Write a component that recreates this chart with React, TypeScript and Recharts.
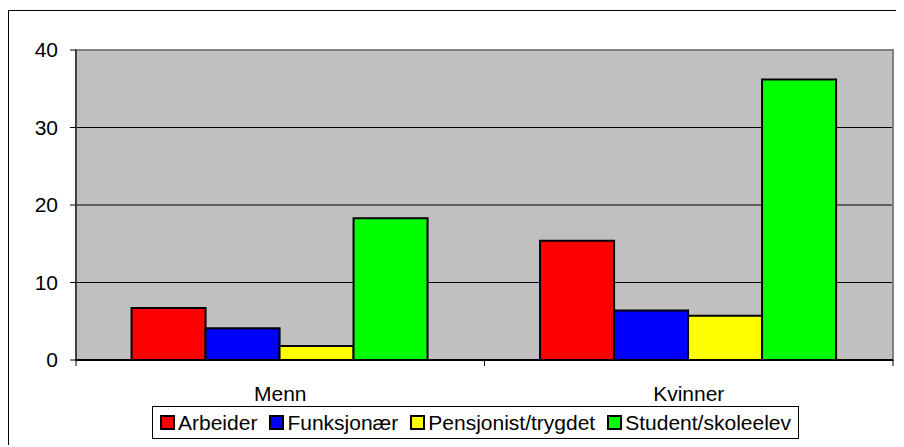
import React from 'react';
import {
  Bar,
  BarChart,
  CartesianGrid,
  Legend,
  ReferenceArea,
  XAxis,
  YAxis,
} from 'recharts';

const categories = ['Menn', 'Kvinner'];
const arbeider = [6.7, 15.4];
const funksjonaer = [4.1, 6.4];
const pensjonist = [1.8, 5.7];
const student = [18.3, 36.2];
const yTicks = [0, 10, 20, 30, 40];

const series = [
  { key: 'arbeider', name: 'Arbeider', color: '#FF0000', values: arbeider },
  { key: 'funksjonaer', name: 'Funksjonær', color: '#0000FF', values: funksjonaer },
  { key: 'pensjonist', name: 'Pensjonist/trygdet', color: '#FFFF00', values: pensjonist },
  { key: 'student', name: 'Student/skoleelev', color: '#00FF00', values: student },
];

const data = categories.map((c, i) => {
  const row: Record<string, string | number> = { category: c };
  series.forEach((s) => {
    row[s.key] = s.values[i];
  });
  return row;
});

const FONT = '"Liberation Sans", Arial, sans-serif';

function CategoryTick(props: any) {
  const { x, y, payload, width, visibleTicksCount } = props;
  const half = (width ?? 817) / (visibleTicksCount || 2) / 2;
  return (
    <g>
      <line x1={x - half} y1={y} x2={x - half} y2={y + 6} stroke="#000" />
      <line x1={x + half} y1={y} x2={x + half} y2={y + 6} stroke="#000" />
      <text x={x} y={y + 41} textAnchor="middle" fontSize={21} fill="#000" fontFamily={FONT}>
        {payload.value}
      </text>
    </g>
  );
}

function LegendBox(props: any) {
  const items = props.payload ?? [];
  return (
    <div
      style={{
        display: 'inline-flex',
        alignItems: 'center',
        border: '1px solid #000',
        background: '#fff',
        padding: '0 7px',
        height: 31,
        fontFamily: FONT,
        fontSize: 21,
        color: '#000',
        whiteSpace: 'nowrap',
      }}
    >
      {items.map((it: any, i: number) => (
        <span
          key={it.value}
          style={{ display: 'inline-flex', alignItems: 'center', marginLeft: i === 0 ? 0 : 12 }}
        >
          <span
            style={{
              display: 'inline-block',
              width: 11,
              height: 11,
              border: '2px solid #000',
              background: it.color,
              marginRight: 3,
            }}
          />
          {it.value}
        </span>
      ))}
    </div>
  );
}

export default function App() {
  return (
    <div
      style={{
        position: 'relative',
        top: 2,
        width: 894,
        height: 435,
        border: '1px solid #000',
        background: '#fff',
      }}
    >
      <BarChart
        width={894}
        height={435}
        data={data}
        margin={{ top: 39, right: 10, left: 0, bottom: 0 }}
        barCategoryGap="13.6%"
        barGap={0}
      >
        <CartesianGrid vertical={false} stroke="#000" fill="#C0C0C0" fillOpacity={1} />
        <ReferenceArea y1={0} y2={40} fill="none" stroke="#808080" strokeWidth={2} />
        <XAxis
          dataKey="category"
          height={52}
          tickLine={false}
          tickSize={0}
          tickMargin={0}
          axisLine={{ stroke: '#000', strokeWidth: 2 }}
          tick={<CategoryTick />}
          interval={0}
        />
        <YAxis
          width={67}
          domain={[0, 40]}
          ticks={yTicks}
          tickSize={6}
          tickMargin={12}
          axisLine={{ stroke: '#000' }}
          tickLine={{ stroke: '#000' }}
          tick={{ fontSize: 21, fill: '#000', fontFamily: FONT }}
        />
        <Legend
          verticalAlign="bottom"
          height={34}
          content={<LegendBox />}
          wrapperStyle={{ left: 143, bottom: 6, width: 'auto' }}
        />
        {series.map((s) => (
          <Bar
            key={s.key}
            dataKey={s.key}
            name={s.name}
            fill={s.color}
            stroke="#000"
            strokeWidth={2}
            isAnimationActive={false}
          />
        ))}
      </BarChart>
    </div>
  );
}
